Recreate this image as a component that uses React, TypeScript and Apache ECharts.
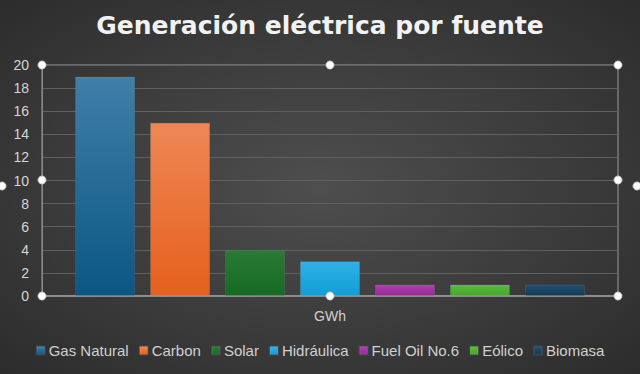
import React, { useEffect, useRef } from "react";
import * as echarts from "echarts";

const categories = ["GWh"];
const seriesNames = ["Gas Natural", "Carbon", "Solar", "Hidráulica", "Fuel Oil No.6", "Eólico", "Biomasa"];
const seriesValues = [19, 15, 4, 3, 1, 1, 1];
const topColors = ["#3f7fa8", "#ee8755", "#2a7a36", "#2fb0e6", "#b040b0", "#5abb3c", "#24506e"];
const bottomColors = ["#0b5784", "#e5601c", "#156b24", "#119ed8", "#962896", "#44a82a", "#123a56"];
const legendColors = ["#1f6a98", "#ed6d2a", "#1d7a2e", "#1fa8e2", "#a535a5", "#4db332", "#1a4563"];

export default function App() {
  const ref = useRef<HTMLDivElement>(null);
  useEffect(() => {
    document.body.style.margin = "0";
    const chart = echarts.init(ref.current!, null, { renderer: "svg" });
    const handles = [
      [42, 65], [330, 65], [618, 65],
      [42, 180], [618, 180],
      [42, 296], [330, 296], [618, 296],
      [2, 186], [637, 186],
    ];
    chart.setOption({
      animation: false,
      backgroundColor: {
        type: "radial",
        x: 0.5,
        y: 0.5,
        r: 0.75,
        colorStops: [
          { offset: 0, color: "#4e4e4e" },
          { offset: 1, color: "#2a2a2a" },
        ],
      },
      title: {
        text: "Generación eléctrica por fuente",
        left: "center",
        top: 8,
        textStyle: {
          color: "#f2f2f2",
          fontSize: 25,
          fontWeight: "bold",
          fontFamily: "DejaVu Sans",
        },
      },
      legend: {
        bottom: 11,
        left: "center",
        itemWidth: 8,
        itemHeight: 8,
        itemGap: 10,
        icon: "rect",
        data: seriesNames,
        textStyle: { color: "#d0d0d0", fontSize: 15, fontFamily: "Liberation Sans", padding: [0, 0, 0, -1] },
      },
      grid: {
        left: 42,
        right: 22,
        top: 65,
        bottom: 78,
        show: true,
        borderColor: "#9a9a9a",
        borderWidth: 1,
        backgroundColor: "transparent",
      },
      xAxis: {
        type: "category",
        data: categories,
        axisTick: { show: false },
        axisLine: { lineStyle: { color: "#9a9a9a", width: 1.5 } },
        axisLabel: { color: "#d0d0d0", fontSize: 14, margin: 13, fontFamily: "Liberation Sans" },
      },
      yAxis: {
        type: "value",
        min: 0,
        max: 20,
        interval: 2,
        axisLine: { show: true, lineStyle: { color: "#8a8a8a" } },
        axisTick: { show: false },
        splitLine: { lineStyle: { color: "#606060", width: 1 } },
        axisLabel: { color: "#d6d6d6", fontSize: 14, margin: 13, fontFamily: "Liberation Sans" },
      },
      series: seriesNames.map((name, i) => ({
        name,
        type: "bar",
        barGap: "25%",
        barCategoryGap: "11.5%",
        data: categories.map(() => seriesValues[i]),
        itemStyle: {
          color: {
            type: "linear",
            x: 0, y: 0, x2: 0, y2: 1,
            colorStops: [
              { offset: 0, color: topColors[i] },
              { offset: 1, color: bottomColors[i] },
            ],
          },
          borderColor: "rgba(255,255,255,0.08)",
          borderWidth: 1,
        },
      })),
      color: legendColors,
      graphic: handles.map(([x, y]) => ({
        type: "circle",
        shape: { cx: x, cy: y, r: 4 },
        style: { fill: "#ffffff", stroke: "#cfcfcf", lineWidth: 1 },
        z: 100,
      })),
    });
    return () => chart.dispose();
  }, []);
  return <div ref={ref} style={{ width: 640, height: 374, position: "absolute", left: 0, top: 0 }} />;
}
